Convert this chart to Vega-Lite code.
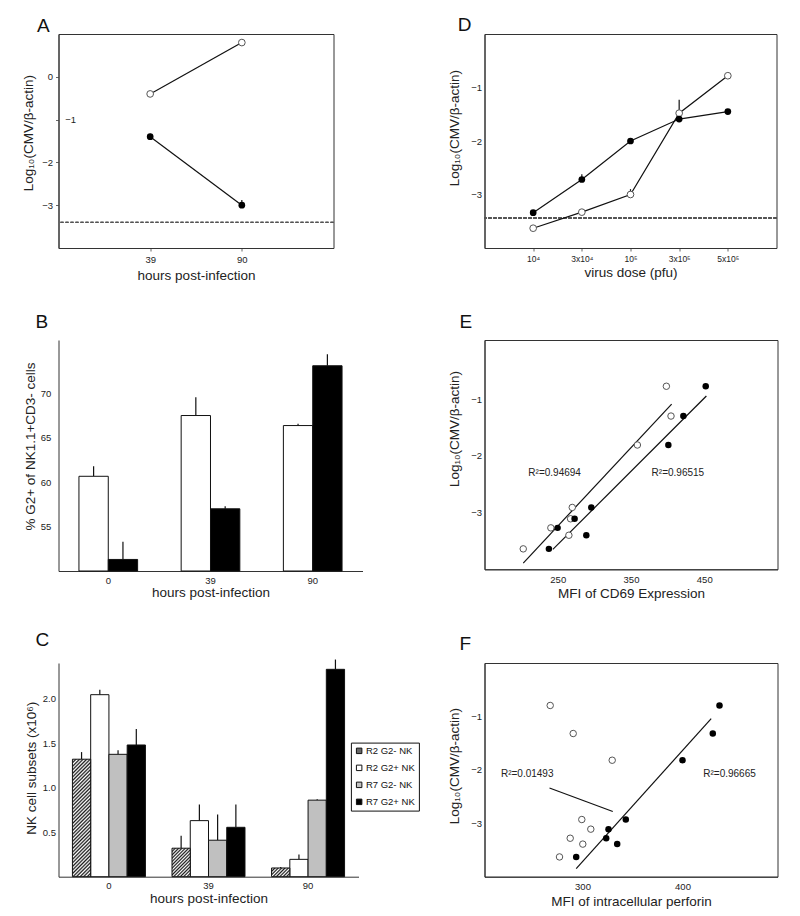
{
  "$schema": "https://vega.github.io/schema/vega-lite/v6.json",
  "background": "white",
  "padding": {"left": 20.5, "top": 15, "right": 10, "bottom": 10},
  "columns": 2,
  "bounds": "flush",
  "spacing": {"row": 92, "column": 122},
  "datasets": {
    "dsA": [
      {"series": "open", "hour": "39", "value": -0.40},
      {"series": "open", "hour": "90", "value": 0.80},
      {"series": "filled", "hour": "39", "value": -1.40, "upper": -1.33},
      {"series": "filled", "hour": "90", "value": -3.0, "upper": -2.88}
    ],
    "dsD": [
      {"series": "filled", "dose": "10⁴", "value": -3.34},
      {"series": "filled", "dose": "3x10⁴", "value": -2.72, "upper": -2.62},
      {"series": "filled", "dose": "10⁵", "value": -2.0},
      {"series": "filled", "dose": "3x10⁵", "value": -1.59},
      {"series": "filled", "dose": "5x10⁵", "value": -1.45},
      {"series": "open", "dose": "10⁴", "value": -3.63},
      {"series": "open", "dose": "3x10⁴", "value": -3.33, "upper": -3.27},
      {"series": "open", "dose": "10⁵", "value": -3.0, "upper": -2.9},
      {"series": "open", "dose": "3x10⁵", "value": -1.48, "upper": -1.23},
      {"series": "open", "dose": "5x10⁵", "value": -0.78}
    ],
    "dsB": [
      {"hour": "0", "series": "open", "value": 60.66, "upper": 61.8},
      {"hour": "0", "series": "filled", "value": 51.3, "upper": 53.3},
      {"hour": "39", "series": "open", "value": 67.5, "upper": 69.56},
      {"hour": "39", "series": "filled", "value": 57.0, "upper": 57.3},
      {"hour": "90", "series": "open", "value": 66.37, "upper": 66.56},
      {"hour": "90", "series": "filled", "value": 73.1, "upper": 74.4}
    ],
    "dsC": [
      {"hour": "0", "subset": "R2 G2- NK", "value": 1.32, "upper": 1.40},
      {"hour": "0", "subset": "R2 G2+ NK", "value": 2.045, "upper": 2.10},
      {"hour": "0", "subset": "R7 G2- NK", "value": 1.375, "upper": 1.42},
      {"hour": "0", "subset": "R7 G2+ NK", "value": 1.48, "upper": 1.66},
      {"hour": "39", "subset": "R2 G2- NK", "value": 0.32, "upper": 0.46},
      {"hour": "39", "subset": "R2 G2+ NK", "value": 0.63, "upper": 0.81},
      {"hour": "39", "subset": "R7 G2- NK", "value": 0.41, "upper": 0.70},
      {"hour": "39", "subset": "R7 G2+ NK", "value": 0.555, "upper": 0.81},
      {"hour": "90", "subset": "R2 G2- NK", "value": 0.098, "upper": 0.11},
      {"hour": "90", "subset": "R2 G2+ NK", "value": 0.195, "upper": 0.25},
      {"hour": "90", "subset": "R7 G2- NK", "value": 0.86, "upper": 0.87},
      {"hour": "90", "subset": "R7 G2+ NK", "value": 2.33, "upper": 2.44}
    ],
    "dsEpts": [
      {"series": "open", "x": 398.3, "y": -0.775},
      {"series": "open", "x": 404.6, "y": -1.30},
      {"series": "open", "x": 358.7, "y": -1.81},
      {"series": "open", "x": 269.8, "y": -2.91},
      {"series": "open", "x": 267.5, "y": -3.11},
      {"series": "open", "x": 240.6, "y": -3.27},
      {"series": "open", "x": 265.2, "y": -3.40},
      {"series": "open", "x": 202.9, "y": -3.64},
      {"series": "filled", "x": 452.0, "y": -0.775},
      {"series": "filled", "x": 421.5, "y": -1.30},
      {"series": "filled", "x": 401.0, "y": -1.81},
      {"series": "filled", "x": 295.8, "y": -2.91},
      {"series": "filled", "x": 273.0, "y": -3.11},
      {"series": "filled", "x": 249.8, "y": -3.27},
      {"series": "filled", "x": 289.0, "y": -3.40},
      {"series": "filled", "x": 237.9, "y": -3.64}
    ],
    "dsEfit": [
      {"series": "open", "x": 202.9, "y": -3.89},
      {"series": "open", "x": 405.5, "y": -1.09},
      {"series": "filled", "x": 243.3, "y": -3.65},
      {"series": "filled", "x": 452.9, "y": -0.946}
    ],
    "dsEtxt": [
      {"x": 245.7, "y": -2.31, "label": "R²=0.94694"},
      {"x": 414.0, "y": -2.31, "label": "R²=0.96515"}
    ],
    "dsFpts": [
      {"series": "open", "x": 267.7, "y": -0.795},
      {"series": "open", "x": 290.7, "y": -1.32},
      {"series": "open", "x": 329.7, "y": -1.82},
      {"series": "open", "x": 299.3, "y": -2.93},
      {"series": "open", "x": 308.3, "y": -3.11},
      {"series": "open", "x": 287.7, "y": -3.28},
      {"series": "open", "x": 300.3, "y": -3.39},
      {"series": "open", "x": 277.0, "y": -3.63},
      {"series": "filled", "x": 437.0, "y": -0.795},
      {"series": "filled", "x": 430.3, "y": -1.32},
      {"series": "filled", "x": 400.0, "y": -1.82},
      {"series": "filled", "x": 343.3, "y": -2.93},
      {"series": "filled", "x": 326.0, "y": -3.11},
      {"series": "filled", "x": 323.7, "y": -3.28},
      {"series": "filled", "x": 334.7, "y": -3.39},
      {"series": "filled", "x": 293.7, "y": -3.63}
    ],
    "dsFfit": [
      {"series": "open", "x": 267.0, "y": -2.34},
      {"series": "open", "x": 330.3, "y": -2.78},
      {"series": "filled", "x": 293.7, "y": -3.85},
      {"series": "filled", "x": 428.7, "y": -1.04}
    ],
    "dsFtxt": [
      {"x": 244.7, "y": -2.07, "label": "R²=0.01493"},
      {"x": 447.0, "y": -2.07, "label": "R²=0.96665"}
    ]
  },
  "concat": [
    {
      "width": 275,
      "height": 214,
      "title": {"text": "A", "dx": -21.5, "offset": -1.5},
      "data": {"name": "dsA"},
      "encoding": {
        "y": {"field": "value", "type": "quantitative", "scale": {"domain": [-4, 1], "nice": false, "zero": false},
          "axis": {"values": [0, -1, -2, -3], "title": "Log₁₀(CMV/β-actin)", "tickSize": 3, "labelPadding": {"condition": {"test": "datum.value === -1", "value": -20}, "value": 3}, "titlePadding": 6, "titleY": 98.7}}
      },
      "layer": [
        {"mark": {"type": "rule", "strokeDash": [3, 2], "color": "#555", "strokeWidth": 1}, "encoding": {"y": {"datum": -3.4}}},
        {"mark": {"type": "line", "color": "#111", "strokeWidth": 1.2},
          "encoding": {"x": {"field": "hour", "type": "ordinal", "scale": {"type": "point", "padding": 1, "domain": ["39", "90"]}, "axis": {"title": "hours post-infection", "labelAngle": 0, "tickSize": 3, "labelPadding": 3, "titlePadding": 5}}, "detail": {"field": "series"}}},
        {"transform": [{"filter": "isValid(datum.upper)"}], "mark": {"type": "rule", "color": "#111", "strokeWidth": 1.2},
          "encoding": {"x": {"field": "hour", "type": "ordinal", "scale": {"type": "point", "padding": 1, "domain": ["39", "90"]}}, "y2": {"field": "upper"}}},
        {"transform": [{"filter": "datum.series === 'open'"}], "mark": {"type": "point", "filled": true, "fill": "white", "stroke": "#555", "strokeWidth": 1, "size": 45, "opacity": 1},
          "encoding": {"x": {"field": "hour", "type": "ordinal", "scale": {"type": "point", "padding": 1, "domain": ["39", "90"]}}}},
        {"transform": [{"filter": "datum.series === 'filled'"}], "mark": {"type": "point", "filled": true, "fill": "black", "size": 45, "opacity": 1},
          "encoding": {"x": {"field": "hour", "type": "ordinal", "scale": {"type": "point", "padding": 1, "domain": ["39", "90"]}}}}
      ]
    },
    {
      "width": 292,
      "height": 214,
      "title": {"text": "D", "dx": -26.7, "offset": -0.5},
      "data": {"name": "dsD"},
      "encoding": {
        "y": {"field": "value", "type": "quantitative", "scale": {"domain": [-4, 0], "nice": false, "zero": false},
          "axis": {"values": [-1, -2, -3], "title": "Log₁₀(CMV/β-actin)", "ticks": false, "tickSize": 0, "labelPadding": 3, "titlePadding": 9.5, "titleY": 93.7}}
      },
      "layer": [
        {"mark": {"type": "rule", "strokeDash": [3, 2], "color": "#555", "strokeWidth": 1}, "encoding": {"y": {"datum": -3.44}}},
        {"mark": {"type": "line", "color": "#111", "strokeWidth": 1.2},
          "encoding": {"x": {"field": "dose", "type": "ordinal", "scale": {"type": "point", "padding": 1, "domain": ["10⁴", "3x10⁴", "10⁵", "3x10⁵", "5x10⁵"]}, "axis": {"title": "virus dose (pfu)", "labelAngle": 0, "tickSize": 3, "labelPadding": 3, "titlePadding": 3, "labelFontSize": 8.5}}, "detail": {"field": "series"}}},
        {"transform": [{"filter": "isValid(datum.upper)"}], "mark": {"type": "rule", "color": "#111", "strokeWidth": 1.2},
          "encoding": {"x": {"field": "dose", "type": "ordinal", "scale": {"type": "point", "padding": 1, "domain": ["10⁴", "3x10⁴", "10⁵", "3x10⁵", "5x10⁵"]}}, "y2": {"field": "upper"}}},
        {"transform": [{"filter": "datum.series === 'open'"}], "mark": {"type": "point", "filled": true, "fill": "white", "stroke": "#555", "strokeWidth": 1, "size": 45, "opacity": 1},
          "encoding": {"x": {"field": "dose", "type": "ordinal", "scale": {"type": "point", "padding": 1, "domain": ["10⁴", "3x10⁴", "10⁵", "3x10⁵", "5x10⁵"]}}}},
        {"transform": [{"filter": "datum.series === 'filled'"}], "mark": {"type": "point", "filled": true, "fill": "black", "size": 45, "opacity": 1},
          "encoding": {"x": {"field": "dose", "type": "ordinal", "scale": {"type": "point", "padding": 1, "domain": ["10⁴", "3x10⁴", "10⁵", "3x10⁵", "5x10⁵"]}}}}
      ]
    },
    {
      "width": 304,
      "height": 231,
      "title": {"text": "B", "dx": -23, "offset": 8},
      "view": {"stroke": null},
      "data": {"name": "dsB"},
      "encoding": {
        "x": {"field": "hour", "type": "nominal", "scale": {"type": "band", "domain": ["0", "39", "90"], "paddingInner": 0.426, "paddingOuter": 0.2},
          "axis": {"title": "hours post-infection", "labelAngle": 0, "ticks": false, "tickSize": 0, "labelPadding": 4, "titlePadding": 1}},
        "y": {"field": "value", "type": "quantitative", "scale": {"domain": [50, 76], "nice": false, "zero": false},
          "axis": {"values": [55, 60, 65, 70], "title": "% G2+ of NK1.1+CD3- cells", "ticks": false, "tickSize": 0, "labelPadding": 7.7, "titlePadding": 3, "titleY": 106}}
      },
      "layer": [
        {"transform": [{"filter": "isValid(datum.upper) && datum.series === 'open'"}], "mark": {"type": "rule", "color": "#111", "strokeWidth": 1.2, "xOffset": -14.67}, "encoding": {"y2": {"field": "upper"}}},
        {"transform": [{"filter": "isValid(datum.upper) && datum.series === 'filled'"}], "mark": {"type": "rule", "color": "#111", "strokeWidth": 1.2, "xOffset": 14.67}, "encoding": {"y2": {"field": "upper"}}},
        {"transform": [{"filter": "datum.series === 'open'"}], "mark": {"type": "bar", "fill": "white", "stroke": "#111", "strokeWidth": 1, "width": 29.33, "xOffset": -14.67}, "encoding": {"y2": {"datum": 50}}},
        {"transform": [{"filter": "datum.series === 'filled'"}], "mark": {"type": "bar", "fill": "black", "stroke": "#111", "strokeWidth": 1, "width": 29.33, "xOffset": 14.67}, "encoding": {"y2": {"datum": 50}}}
      ]
    },
    {
      "width": 293,
      "height": 229.3,
      "title": {"text": "E", "dx": -25, "offset": 8},
      "encoding": {
        "x": {"field": "x", "type": "quantitative", "scale": {"domain": [150, 550], "nice": false, "zero": false},
          "axis": {"values": [250, 350, 450], "title": "MFI of CD69 Expression", "ticks": false, "tickSize": 0, "labelPadding": 5, "titlePadding": 3}},
        "y": {"field": "y", "type": "quantitative", "scale": {"domain": [-4, 0.04], "nice": false, "zero": false},
          "axis": {"values": [-1, -2, -3], "title": "Log₁₀(CMV/β-actin)", "ticks": false, "tickSize": 0, "labelPadding": 3, "titlePadding": 9, "titleY": 88.5}}
      },
      "layer": [
        {"data": {"name": "dsEfit"}, "mark": {"type": "line", "color": "#111", "strokeWidth": 1.2}, "encoding": {"detail": {"field": "series"}}},
        {"data": {"name": "dsEpts"}, "transform": [{"filter": "datum.series === 'open'"}], "mark": {"type": "point", "filled": true, "fill": "white", "stroke": "#555", "strokeWidth": 1, "size": 42, "opacity": 1}},
        {"data": {"name": "dsEpts"}, "transform": [{"filter": "datum.series === 'filled'"}], "mark": {"type": "point", "filled": true, "fill": "black", "size": 42, "opacity": 1}},
        {"data": {"name": "dsEtxt"}, "mark": {"type": "text", "fontSize": 10, "color": "#222", "align": "center", "baseline": "middle"}, "encoding": {"text": {"field": "label"}}}
      ]
    },
    {
      "width": 300,
      "height": 213.7,
      "title": {"text": "C", "dx": -23, "offset": 9.4},
      "view": {"stroke": null},
      "data": {"name": "dsC"},
      "encoding": {
        "x": {"field": "hour", "type": "nominal", "scale": {"type": "band", "domain": ["0", "39", "90"], "paddingInner": 0.267, "paddingOuter": 0.14},
          "axis": {"title": "hours post-infection", "labelAngle": 0, "ticks": false, "tickSize": 0, "labelPadding": 4, "titlePadding": 1}},
        "y": {"field": "value", "type": "quantitative", "scale": {"domain": [0, 2.401], "nice": false},
          "axis": {"values": [0.5, 1, 1.5, 2], "title": "NK cell subsets (x10⁶)", "ticks": false, "tickSize": 0, "labelPadding": 3, "titlePadding": 4, "titleY": 104.7}}
      },
      "layer": [
        {"transform": [{"filter": "datum.subset === 'R2 G2- NK'"}], "mark": {"type": "rule", "color": "#111", "strokeWidth": 1.2, "xOffset": -27.37}, "encoding": {"y2": {"field": "upper"}}},
        {"transform": [{"filter": "datum.subset === 'R2 G2+ NK'"}], "mark": {"type": "rule", "color": "#111", "strokeWidth": 1.2, "xOffset": -9.12}, "encoding": {"y2": {"field": "upper"}}},
        {"transform": [{"filter": "datum.subset === 'R7 G2- NK'"}], "mark": {"type": "rule", "color": "#111", "strokeWidth": 1.2, "xOffset": 9.12}, "encoding": {"y2": {"field": "upper"}}},
        {"transform": [{"filter": "datum.subset === 'R7 G2+ NK'"}], "mark": {"type": "rule", "color": "#111", "strokeWidth": 1.2, "xOffset": 27.37}, "encoding": {"y2": {"field": "upper"}}},
        {"transform": [{"filter": "datum.subset === 'R2 G2+ NK'"}], "mark": {"type": "bar", "stroke": "#111", "strokeWidth": 1, "width": 18.25, "xOffset": -9.12},
          "encoding": {"fill": {"field": "subset", "type": "nominal", "scale": {"domain": ["R2 G2- NK", "R2 G2+ NK", "R7 G2- NK", "R7 G2+ NK"], "range": ["#666666", "#ffffff", "#c0c0c0", "#000000"]},
            "legend": {"orient": "none", "legendX": 292.4, "legendY": 708.6, "title": null, "strokeColor": "#111", "padding": 3.5, "columnPadding": 0, "labelFontSize": 9.5, "labelColor": "#111", "symbolType": "square", "symbolSize": 30, "symbolStrokeColor": "#111", "symbolStrokeWidth": 1, "rowPadding": 6, "labelOffset": 2}}}},
        {"transform": [{"filter": "datum.subset === 'R7 G2- NK'"}], "mark": {"type": "bar", "stroke": "#111", "strokeWidth": 1, "width": 18.25, "xOffset": 9.12},
          "encoding": {"fill": {"field": "subset", "type": "nominal", "scale": {"domain": ["R2 G2- NK", "R2 G2+ NK", "R7 G2- NK", "R7 G2+ NK"], "range": ["#666666", "#ffffff", "#c0c0c0", "#000000"]},
            "legend": {"orient": "none", "legendX": 292.4, "legendY": 708.6, "title": null, "strokeColor": "#111", "padding": 3.5, "columnPadding": 0, "labelFontSize": 9.5, "labelColor": "#111", "symbolType": "square", "symbolSize": 30, "symbolStrokeColor": "#111", "symbolStrokeWidth": 1, "rowPadding": 6, "labelOffset": 2}}}},
        {"transform": [{"filter": "datum.subset === 'R7 G2+ NK'"}], "mark": {"type": "bar", "stroke": "#111", "strokeWidth": 1, "width": 18.25, "xOffset": 27.37},
          "encoding": {"fill": {"field": "subset", "type": "nominal", "scale": {"domain": ["R2 G2- NK", "R2 G2+ NK", "R7 G2- NK", "R7 G2+ NK"], "range": ["#666666", "#ffffff", "#c0c0c0", "#000000"]},
            "legend": {"orient": "none", "legendX": 292.4, "legendY": 708.6, "title": null, "strokeColor": "#111", "padding": 3.5, "columnPadding": 0, "labelFontSize": 9.5, "labelColor": "#111", "symbolType": "square", "symbolSize": 30, "symbolStrokeColor": "#111", "symbolStrokeWidth": 1, "rowPadding": 6, "labelOffset": 2}}}},
        {"transform": [{"filter": "datum.subset === 'R2 G2- NK' && datum.hour === '0'"}],
          "mark": {"type": "bar", "stroke": "#111", "strokeWidth": 1, "width": 18.25, "xOffset": -27.37, "fill": {"gradient": "linear", "x1": 0, "y1": 0, "x2": 0.176, "y2": 1.129, "stops": [{"offset":0,"color":"#1a1a1a"},{"offset":0.0132,"color":"#fff"},{"offset":0.0263,"color":"#1a1a1a"},{"offset":0.0395,"color":"#fff"},{"offset":0.0526,"color":"#1a1a1a"},{"offset":0.0658,"color":"#fff"},{"offset":0.0789,"color":"#1a1a1a"},{"offset":0.0921,"color":"#fff"},{"offset":0.1053,"color":"#1a1a1a"},{"offset":0.1184,"color":"#fff"},{"offset":0.1316,"color":"#1a1a1a"},{"offset":0.1447,"color":"#fff"},{"offset":0.1579,"color":"#1a1a1a"},{"offset":0.1711,"color":"#fff"},{"offset":0.1842,"color":"#1a1a1a"},{"offset":0.1974,"color":"#fff"},{"offset":0.2105,"color":"#1a1a1a"},{"offset":0.2237,"color":"#fff"},{"offset":0.2368,"color":"#1a1a1a"},{"offset":0.25,"color":"#fff"},{"offset":0.2632,"color":"#1a1a1a"},{"offset":0.2763,"color":"#fff"},{"offset":0.2895,"color":"#1a1a1a"},{"offset":0.3026,"color":"#fff"},{"offset":0.3158,"color":"#1a1a1a"},{"offset":0.3289,"color":"#fff"},{"offset":0.3421,"color":"#1a1a1a"},{"offset":0.3553,"color":"#fff"},{"offset":0.3684,"color":"#1a1a1a"},{"offset":0.3816,"color":"#fff"},{"offset":0.3947,"color":"#1a1a1a"},{"offset":0.4079,"color":"#fff"},{"offset":0.4211,"color":"#1a1a1a"},{"offset":0.4342,"color":"#fff"},{"offset":0.4474,"color":"#1a1a1a"},{"offset":0.4605,"color":"#fff"},{"offset":0.4737,"color":"#1a1a1a"},{"offset":0.4868,"color":"#fff"},{"offset":0.5,"color":"#1a1a1a"},{"offset":0.5132,"color":"#fff"},{"offset":0.5263,"color":"#1a1a1a"},{"offset":0.5395,"color":"#fff"},{"offset":0.5526,"color":"#1a1a1a"},{"offset":0.5658,"color":"#fff"},{"offset":0.5789,"color":"#1a1a1a"},{"offset":0.5921,"color":"#fff"},{"offset":0.6053,"color":"#1a1a1a"},{"offset":0.6184,"color":"#fff"},{"offset":0.6316,"color":"#1a1a1a"},{"offset":0.6447,"color":"#fff"},{"offset":0.6579,"color":"#1a1a1a"},{"offset":0.6711,"color":"#fff"},{"offset":0.6842,"color":"#1a1a1a"},{"offset":0.6974,"color":"#fff"},{"offset":0.7105,"color":"#1a1a1a"},{"offset":0.7237,"color":"#fff"},{"offset":0.7368,"color":"#1a1a1a"},{"offset":0.75,"color":"#fff"},{"offset":0.7632,"color":"#1a1a1a"},{"offset":0.7763,"color":"#fff"},{"offset":0.7895,"color":"#1a1a1a"},{"offset":0.8026,"color":"#fff"},{"offset":0.8158,"color":"#1a1a1a"},{"offset":0.8289,"color":"#fff"},{"offset":0.8421,"color":"#1a1a1a"},{"offset":0.8553,"color":"#fff"},{"offset":0.8684,"color":"#1a1a1a"},{"offset":0.8816,"color":"#fff"},{"offset":0.8947,"color":"#1a1a1a"},{"offset":0.9079,"color":"#fff"},{"offset":0.9211,"color":"#1a1a1a"},{"offset":0.9342,"color":"#fff"},{"offset":0.9474,"color":"#1a1a1a"},{"offset":0.9605,"color":"#fff"},{"offset":0.9737,"color":"#1a1a1a"},{"offset":0.9868,"color":"#fff"},{"offset":1,"color":"#1a1a1a"}]}}},
        {"transform": [{"filter": "datum.subset === 'R2 G2- NK' && datum.hour === '39'"}],
          "mark": {"type": "bar", "stroke": "#111", "strokeWidth": 1, "width": 18.25, "xOffset": -27.37, "fill": {"gradient": "linear", "x1": 0, "y1": 0, "x2": 0.7475, "y2": 1.1623, "stops": [{"offset":0,"color":"#1a1a1a"},{"offset":0.0357,"color":"#fff"},{"offset":0.0714,"color":"#1a1a1a"},{"offset":0.1071,"color":"#fff"},{"offset":0.1429,"color":"#1a1a1a"},{"offset":0.1786,"color":"#fff"},{"offset":0.2143,"color":"#1a1a1a"},{"offset":0.25,"color":"#fff"},{"offset":0.2857,"color":"#1a1a1a"},{"offset":0.3214,"color":"#fff"},{"offset":0.3571,"color":"#1a1a1a"},{"offset":0.3929,"color":"#fff"},{"offset":0.4286,"color":"#1a1a1a"},{"offset":0.4643,"color":"#fff"},{"offset":0.5,"color":"#1a1a1a"},{"offset":0.5357,"color":"#fff"},{"offset":0.5714,"color":"#1a1a1a"},{"offset":0.6071,"color":"#fff"},{"offset":0.6429,"color":"#1a1a1a"},{"offset":0.6786,"color":"#fff"},{"offset":0.7143,"color":"#1a1a1a"},{"offset":0.75,"color":"#fff"},{"offset":0.7857,"color":"#1a1a1a"},{"offset":0.8214,"color":"#fff"},{"offset":0.8571,"color":"#1a1a1a"},{"offset":0.8929,"color":"#fff"},{"offset":0.9286,"color":"#1a1a1a"},{"offset":0.9643,"color":"#fff"},{"offset":1,"color":"#1a1a1a"}]}}},
        {"transform": [{"filter": "datum.subset === 'R2 G2- NK' && datum.hour === '90'"}],
          "mark": {"type": "bar", "stroke": "#111", "strokeWidth": 1, "width": 18.25, "xOffset": -27.37, "fill": {"gradient": "linear", "x1": 0, "y1": 0, "x2": 1.2035, "y2": 0.5726, "stops": [{"offset":0,"color":"#1a1a1a"},{"offset":0.0625,"color":"#fff"},{"offset":0.125,"color":"#1a1a1a"},{"offset":0.1875,"color":"#fff"},{"offset":0.25,"color":"#1a1a1a"},{"offset":0.3125,"color":"#fff"},{"offset":0.375,"color":"#1a1a1a"},{"offset":0.4375,"color":"#fff"},{"offset":0.5,"color":"#1a1a1a"},{"offset":0.5625,"color":"#fff"},{"offset":0.625,"color":"#1a1a1a"},{"offset":0.6875,"color":"#fff"},{"offset":0.75,"color":"#1a1a1a"},{"offset":0.8125,"color":"#fff"},{"offset":0.875,"color":"#1a1a1a"},{"offset":0.9375,"color":"#fff"},{"offset":1,"color":"#1a1a1a"}]}}}
      ]
    },
    {
      "width": 293,
      "height": 213.7,
      "title": {"text": "F", "dx": -25, "offset": 9.4},
      "encoding": {
        "x": {"field": "x", "type": "quantitative", "scale": {"domain": [202, 495], "nice": false, "zero": false},
          "axis": {"values": [300, 400], "title": "MFI of intracellular perforin", "ticks": false, "tickSize": 0, "labelPadding": 5, "titlePadding": 3}},
        "y": {"field": "y", "type": "quantitative", "scale": {"domain": [-4, 0], "nice": false, "zero": false},
          "axis": {"values": [-1, -2, -3], "title": "Log₁₀(CMV/β-actin)", "ticks": false, "tickSize": 0, "labelPadding": 3, "titlePadding": 9, "titleY": 102.7}}
      },
      "layer": [
        {"data": {"name": "dsFfit"}, "mark": {"type": "line", "color": "#111", "strokeWidth": 1.2}, "encoding": {"detail": {"field": "series"}}},
        {"data": {"name": "dsFpts"}, "transform": [{"filter": "datum.series === 'open'"}], "mark": {"type": "point", "filled": true, "fill": "white", "stroke": "#555", "strokeWidth": 1, "size": 42, "opacity": 1}},
        {"data": {"name": "dsFpts"}, "transform": [{"filter": "datum.series === 'filled'"}], "mark": {"type": "point", "filled": true, "fill": "black", "size": 42, "opacity": 1}},
        {"data": {"name": "dsFtxt"}, "mark": {"type": "text", "fontSize": 10, "color": "#222", "align": "center", "baseline": "middle"}, "encoding": {"text": {"field": "label"}}}
      ]
    }
  ],
  "config": {
    "font": "Liberation Sans",
    "view": {"stroke": "#333", "strokeWidth": 1},
    "axis": {"labelFont": "Liberation Sans", "titleFont": "Liberation Sans", "labelFontSize": 9.5, "titleFontSize": 13.5, "titleFontWeight": "normal", "labelColor": "#222", "titleColor": "#222", "domainColor": "#333", "tickColor": "#666", "grid": false},
    "title": {"font": "Liberation Sans", "fontSize": 19, "fontWeight": "normal", "anchor": "start", "frame": "group", "baseline": "alphabetic", "color": "#111"}
  }
}
